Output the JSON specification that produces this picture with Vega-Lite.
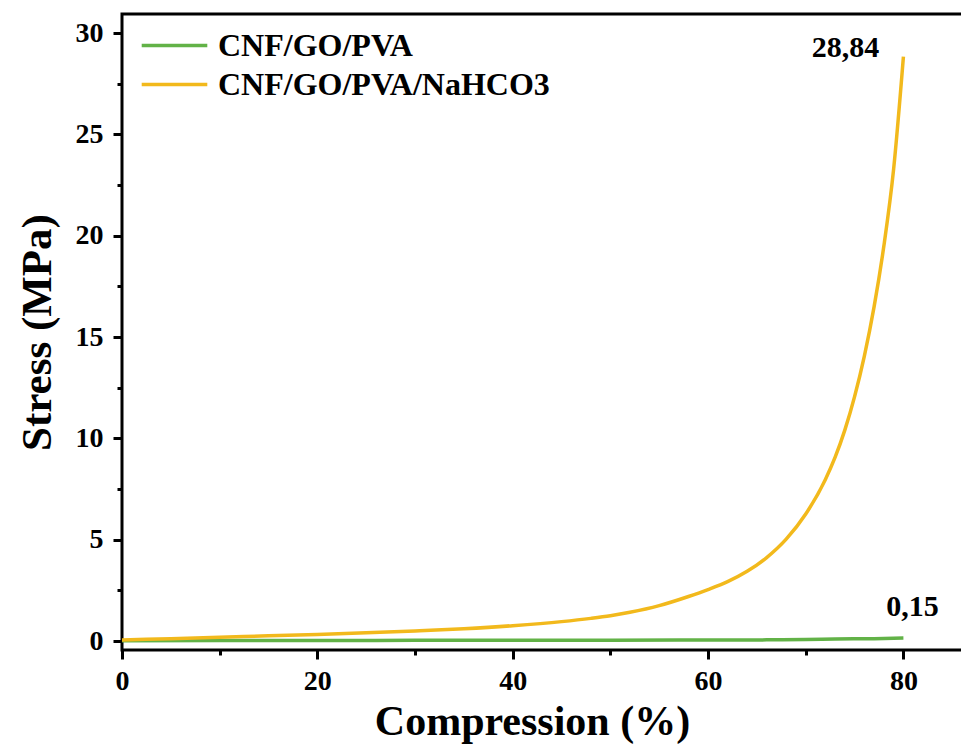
{
  "$schema": "https://vega.github.io/schema/vega-lite/v6.json",
  "width": 841,
  "height": 636,
  "autosize": {"type": "none"},
  "padding": {"left": 122, "top": 14, "right": 0, "bottom": 99},
  "background": "white",
  "config": {
    "view": {"stroke": "black", "strokeWidth": 3},
    "font": "Liberation Serif"
  },
  "data": {
    "values": [
      {"compression": 0, "stress": 0.02, "series": "CNF/GO/PVA"},
      {"compression": 10, "stress": 0.025, "series": "CNF/GO/PVA"},
      {"compression": 20, "stress": 0.03, "series": "CNF/GO/PVA"},
      {"compression": 30, "stress": 0.035, "series": "CNF/GO/PVA"},
      {"compression": 40, "stress": 0.04, "series": "CNF/GO/PVA"},
      {"compression": 50, "stress": 0.045, "series": "CNF/GO/PVA"},
      {"compression": 60, "stress": 0.05, "series": "CNF/GO/PVA"},
      {"compression": 66, "stress": 0.06, "series": "CNF/GO/PVA"},
      {"compression": 70, "stress": 0.075, "series": "CNF/GO/PVA"},
      {"compression": 73, "stress": 0.1, "series": "CNF/GO/PVA"},
      {"compression": 77, "stress": 0.12, "series": "CNF/GO/PVA"},
      {"compression": 80, "stress": 0.15, "series": "CNF/GO/PVA", "note": "0,15"},
      {"compression": 0, "stress": 0.05, "series": "CNF/GO/PVA/NaHCO3"},
      {"compression": 5, "stress": 0.12, "series": "CNF/GO/PVA/NaHCO3"},
      {"compression": 10, "stress": 0.19, "series": "CNF/GO/PVA/NaHCO3"},
      {"compression": 15, "stress": 0.26, "series": "CNF/GO/PVA/NaHCO3"},
      {"compression": 20, "stress": 0.33, "series": "CNF/GO/PVA/NaHCO3"},
      {"compression": 25, "stress": 0.41, "series": "CNF/GO/PVA/NaHCO3"},
      {"compression": 30, "stress": 0.5, "series": "CNF/GO/PVA/NaHCO3"},
      {"compression": 35, "stress": 0.61, "series": "CNF/GO/PVA/NaHCO3"},
      {"compression": 40, "stress": 0.76, "series": "CNF/GO/PVA/NaHCO3"},
      {"compression": 45, "stress": 0.96, "series": "CNF/GO/PVA/NaHCO3"},
      {"compression": 48, "stress": 1.12, "series": "CNF/GO/PVA/NaHCO3"},
      {"compression": 50, "stress": 1.25, "series": "CNF/GO/PVA/NaHCO3"},
      {"compression": 52, "stress": 1.42, "series": "CNF/GO/PVA/NaHCO3"},
      {"compression": 55, "stress": 1.75, "series": "CNF/GO/PVA/NaHCO3"},
      {"compression": 58, "stress": 2.2, "series": "CNF/GO/PVA/NaHCO3"},
      {"compression": 60, "stress": 2.54, "series": "CNF/GO/PVA/NaHCO3"},
      {"compression": 62, "stress": 2.93, "series": "CNF/GO/PVA/NaHCO3"},
      {"compression": 64, "stress": 3.44, "series": "CNF/GO/PVA/NaHCO3"},
      {"compression": 66, "stress": 4.12, "series": "CNF/GO/PVA/NaHCO3"},
      {"compression": 68, "stress": 5.03, "series": "CNF/GO/PVA/NaHCO3"},
      {"compression": 70, "stress": 6.27, "series": "CNF/GO/PVA/NaHCO3"},
      {"compression": 72, "stress": 7.96, "series": "CNF/GO/PVA/NaHCO3"},
      {"compression": 73, "stress": 9.06, "series": "CNF/GO/PVA/NaHCO3"},
      {"compression": 74, "stress": 10.41, "series": "CNF/GO/PVA/NaHCO3"},
      {"compression": 75, "stress": 12.06, "series": "CNF/GO/PVA/NaHCO3"},
      {"compression": 76, "stress": 14.06, "series": "CNF/GO/PVA/NaHCO3"},
      {"compression": 77, "stress": 16.5, "series": "CNF/GO/PVA/NaHCO3"},
      {"compression": 78, "stress": 19.5, "series": "CNF/GO/PVA/NaHCO3"},
      {"compression": 79, "stress": 23.3, "series": "CNF/GO/PVA/NaHCO3"},
      {"compression": 80, "stress": 28.84, "series": "CNF/GO/PVA/NaHCO3", "note": "28,84"}
    ]
  },
  "encoding": {
    "x": {
      "field": "compression",
      "type": "quantitative",
      "scale": {"domain": [0, 86.1], "nice": false, "zero": false},
      "axis": {
        "title": "Compression (%)",
        "values": [0, 10, 20, 30, 40, 50, 60, 70, 80],
        "labelExpr": "datum.value % 20 === 0 ? datum.label : ''",
        "labelFlush": false,
        "grid": false,
        "domain": false,
        "ticks": true,
        "tickColor": "black",
        "tickWidth": 3,
        "tickSize": {"condition": {"test": "datum.value % 20 !== 0", "value": 5}, "value": 9},
        "labelFont": "Liberation Serif",
        "labelFontWeight": "bold",
        "labelFontSize": 28,
        "labelColor": "black",
        "labelPadding": 8,
        "titleFont": "Liberation Serif",
        "titleFontWeight": "bold",
        "titleFontSize": 42,
        "titleColor": "black",
        "titlePadding": 6,
        "titleX": 410,
        "titleAlign": "center"
      }
    },
    "y": {
      "field": "stress",
      "type": "quantitative",
      "scale": {"domain": [-0.44, 30.94], "nice": false, "zero": false},
      "axis": {
        "title": "Stress (MPa)",
        "values": [0, 2.5, 5, 7.5, 10, 12.5, 15, 17.5, 20, 22.5, 25, 27.5, 30],
        "labelExpr": "datum.value % 5 === 0 ? datum.label : ''",
        "labelFlush": false,
        "grid": false,
        "domain": false,
        "tickColor": "black",
        "tickWidth": 3,
        "tickSize": {"condition": {"test": "datum.value % 5 !== 0", "value": 5}, "value": 9},
        "labelFont": "Liberation Serif",
        "labelFontWeight": "bold",
        "labelFontSize": 28,
        "labelColor": "black",
        "labelPadding": 10,
        "titleFont": "Liberation Serif",
        "titleFontWeight": "bold",
        "titleFontSize": 43,
        "titleColor": "black",
        "titlePadding": 16
      }
    }
  },
  "layer": [
    {
      "mark": {"type": "line", "strokeWidth": 3.5, "interpolate": "monotone"},
      "encoding": {
        "color": {
          "field": "series",
          "type": "nominal",
          "scale": {
            "domain": ["CNF/GO/PVA", "CNF/GO/PVA/NaHCO3"],
            "range": ["#62b247", "#f2b91c"]
          },
          "legend": {
            "title": null,
            "orient": "none",
            "legendX": 30,
            "legendY": 9,
            "symbolType": "M-1.6,0H1.6",
            "symbolSize": 1681,
            "symbolStrokeWidth": 3.5,
            "labelFont": "Liberation Serif",
            "labelFontWeight": "bold",
            "labelFontSize": 32,
            "labelColor": "black",
            "labelOffset": 21,
            "labelLimit": 600,
            "rowPadding": 0,
            "padding": 0
          }
        }
      }
    },
    {
      "transform": [{"filter": "datum.note === '28,84'"}],
      "mark": {"type": "text", "font": "Liberation Serif", "fontWeight": "bold", "fontSize": 30, "color": "black", "align": "center", "baseline": "middle", "dx": -58, "dy": -9},
      "encoding": {"text": {"field": "note"}}
    },
    {
      "transform": [{"filter": "datum.note === '0,15'"}],
      "mark": {"type": "text", "font": "Liberation Serif", "fontWeight": "bold", "fontSize": 30, "color": "black", "align": "center", "baseline": "middle", "dx": 9, "dy": -31},
      "encoding": {"text": {"field": "note"}}
    }
  ]
}
